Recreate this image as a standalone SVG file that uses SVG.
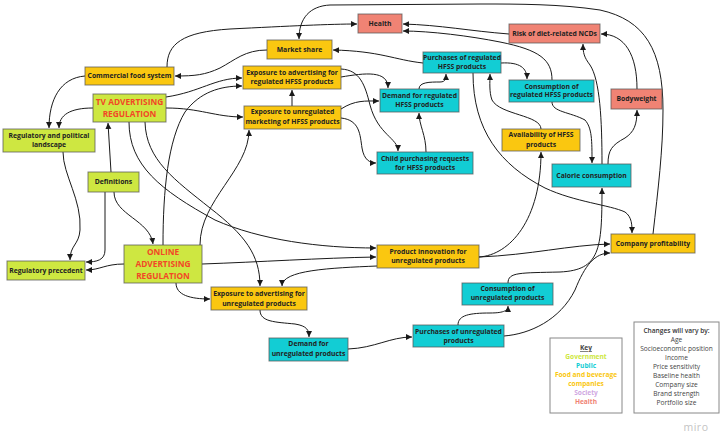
<svg xmlns="http://www.w3.org/2000/svg" width="720" height="434" viewBox="0 0 720 434">
<defs>
<marker id="ah" markerUnits="userSpaceOnUse" markerWidth="7" markerHeight="7" refX="6" refY="3" orient="auto"><path d="M0,0 L6,3 L0,6 z" fill="#1a1a1a"/></marker>
<style>
.n rect{stroke:#555;stroke-opacity:.75;stroke-width:1}
.g rect{fill:#cee741}
.y rect{fill:#fac710}
.c rect{fill:#12cdd4}
.h rect{fill:#f08374}
.n text{font-family:"Open Sans","Liberation Sans",sans-serif;font-weight:700;font-size:6.8px;fill:#222;text-anchor:middle}
.n text.big{font-size:8.3px;fill:#f24726}
#conn path{fill:none;stroke:#1a1a1a;stroke-width:1;marker-end:url(#ah)}
.k text{font-family:"Open Sans","Liberation Sans",sans-serif;font-size:6.6px;text-anchor:middle}
</style>
</defs>
<rect width="720" height="434" fill="#fff"/>
<g id="conn">
<path d="M167,67 C167,44 182,32 230,29 C290,26 330,24 357,24"/>
<path d="M267,50 C245,50 235,60 220,68 C205,75 195,76 175,76"/>
<path d="M85,76 C60,78 49,100 49,128"/>
<path d="M93,108 C70,108 59,115 59,128"/>
<path d="M166,97 C200,92 215,78 242,78"/>
<path d="M163,245 C163,190 168,140 185,112 C200,92 220,86 242,86"/>
<path d="M166,108 C200,108 215,117 243,117"/>
<path d="M200,245 C200,200 249,170 249,130"/>
<path d="M292,106 L292,90"/>
<path d="M341,77 C365,73 388,70 388,88"/>
<path d="M341,69 C360,70 365,85 370,105 C378,135 398,138 398,151"/>
<path d="M341,109 C355,100 365,101 379,101"/>
<path d="M341,118 C360,120 360,135 362,148 C364,160 370,163 376,163"/>
<path d="M426,152 C426,135 419,125 419,113"/>
<path d="M419,89 C419,82 430,82 440,82 C446,82 446,78 446,74"/>
<path d="M423,63 C395,60 380,51 333,50"/>
<path d="M501,63 C520,62 527,68 527,79"/>
<path d="M541,129 C541,115 500,115 492,100 C489,92 490,82 490,74"/>
<path d="M473,73 C473,130 500,165 545,188 C575,202 610,205 625,212 C632,217 632,225 632,233"/>
<path d="M552,102 C552,112 570,112 585,120 C592,128 592,140 592,163"/>
<path d="M602,164 C602,120 600,80 590,65 C584,57 583,53 583,44"/>
<path d="M608,164 C608,150 612,145 625,138 C634,132 637,125 637,110"/>
<path d="M637,89 C637,55 625,34 601,34"/>
<path d="M509,34 C470,31 440,25 403,24"/>
<path d="M552,80 C552,60 540,50 500,42 C470,36 430,31 403,31"/>
<path d="M653,234 C658,190 663,150 663,110 C663,50 645,20 600,10 C560,4 520,4 480,4 L330,5 C310,6 299,18 299,39"/>
<path d="M508,283 C508,272 520,273 560,272 C600,270 602,250 602,188"/>
<path d="M479,257 C510,255 541,220 541,152"/>
<path d="M479,257 C530,255 570,245 610,244"/>
<path d="M504,336 C530,334 560,320 575,290 C585,265 595,253 610,253"/>
<path d="M458,325 C458,315 470,313 490,313 C505,313 508,310 508,306"/>
<path d="M348,349 C375,348 390,337 412,337"/>
<path d="M260,310 C260,322 275,322 295,324 C307,326 309,330 309,337"/>
<path d="M176,283 C176,295 190,299 210,299"/>
<path d="M377,266 C330,268 282,270 282,286"/>
<path d="M145,122 C146,160 175,180 210,208 C245,235 260,255 260,286"/>
<path d="M129,122 C129,165 160,190 215,220 C260,240 320,248 376,248"/>
<path d="M202,264 C260,262 320,258 376,257"/>
<path d="M111,172 L108,123"/>
<path d="M114,192 C114,215 150,220 153,244"/>
<path d="M105,192 L105,250 C105,260 97,262 86,262"/>
<path d="M63,152 C63,175 82,200 80,230 C79,245 70,245 70,260"/>
<path d="M124,264 C105,264 100,270 86,270"/>
</g>
<g id="health" class="n h"><rect x="358" y="14" width="44" height="19"/><text x="380" y="25.9">Health</text></g>
<g id="risk" class="n h"><rect x="509" y="24" width="91" height="19"/><text x="554.5" y="35.9">Risk of diet-related NCDs</text></g>
<g id="market" class="n y"><rect x="267" y="40" width="65" height="19"/><text x="299.5" y="51.9">Market share</text></g>
<g id="commercial" class="n y"><rect x="85" y="67" width="89" height="18"/><text x="129.5" y="78.4">Commercial food system</text></g>
<g id="tv" class="n g"><rect x="93" y="94" width="73" height="28"/><text class="big" x="129.5" y="105">TV ADVERTISING</text><text class="big" x="129.5" y="116.6">REGULATION</text></g>
<g id="regpol" class="n g"><rect x="3" y="129" width="92" height="23"/><text x="49" y="137.9">Regulatory and political</text><text x="49" y="147.4">landscape</text></g>
<g id="expreg" class="n y"><rect x="243" y="66" width="98" height="23"/><text x="292" y="74.9">Exposure to advertising for</text><text x="292" y="84.4">regulated HFSS products</text></g>
<g id="expunreg" class="n y"><rect x="244" y="106" width="97" height="23"/><text x="292.5" y="114.4">Exposure to unregulated</text><text x="292.5" y="124.2">marketing of HFSS products</text></g>
<g id="demreg" class="n c"><rect x="380" y="89" width="79" height="23"/><text x="419.5" y="98.2">Demand for regulated</text><text x="419.5" y="107.4">HFSS products</text></g>
<g id="purreg" class="n c"><rect x="423" y="52" width="78" height="21"/><text x="462" y="59.9">Purchases of regulated</text><text x="462" y="69.2">HFSS products</text></g>
<g id="conreg" class="n c"><rect x="509" y="80" width="85" height="22"/><text x="551.5" y="88.9">Consumption of</text><text x="551.5" y="97.4">regulated HFSS products</text></g>
<g id="body" class="n h"><rect x="611" y="89" width="51" height="20"/><text x="636.5" y="101.4">Bodyweight</text></g>
<g id="avail" class="n y"><rect x="502" y="129" width="78" height="22"/><text x="541" y="137.4">Availability of HFSS</text><text x="541" y="146.9">products</text></g>
<g id="child" class="n c"><rect x="377" y="152" width="96" height="22"/><text x="425" y="160.6">Child purchasing requests</text><text x="425" y="169.9">for HFSS products</text></g>
<g id="calorie" class="n c"><rect x="552" y="164" width="79" height="23"/><text x="591.5" y="177.9">Calorie consumption</text></g>
<g id="defs" class="n g"><rect x="88" y="172" width="51" height="20"/><text x="113.5" y="184.4">Definitions</text></g>
<g id="online" class="n g"><rect x="124" y="245" width="78" height="38"/><text class="big" x="163" y="255.2">ONLINE</text><text class="big" x="163" y="267">ADVERTISING</text><text class="big" x="163" y="278.8">REGULATION</text></g>
<g id="regprec" class="n g"><rect x="7" y="261" width="78" height="19"/><text x="46" y="272.9">Regulatory precedent</text></g>
<g id="prodinn" class="n y"><rect x="377" y="245" width="102" height="23"/><text x="428" y="253.6">Product innovation for</text><text x="428" y="262.9">unregulated products</text></g>
<g id="profit" class="n y"><rect x="611" y="234" width="84" height="19"/><text x="653" y="245.9">Company profitability</text></g>
<g id="expunprod" class="n y"><rect x="211" y="287" width="96" height="23"/><text x="259" y="296.1">Exposure to advertising for</text><text x="259" y="305.5">unregulated products</text></g>
<g id="demunreg" class="n c"><rect x="269" y="338" width="79" height="23"/><text x="308.5" y="346.4">Demand for</text><text x="308.5" y="355.8">unregulated products</text></g>
<g id="purunreg" class="n c"><rect x="413" y="325" width="91" height="22"/><text x="458.5" y="334">Purchases of unregulated</text><text x="458.5" y="343">products</text></g>
<g id="conunreg" class="n c"><rect x="462" y="283" width="91" height="22"/><text x="507.5" y="291.4">Consumption of</text><text x="507.5" y="300.3">unregulated products</text></g>
<g id="key" class="k">
<rect x="550" y="338" width="72" height="75" fill="#fff" stroke="#888" stroke-width="1"/>
<text x="586" y="350.3" fill="#444" font-weight="700" text-decoration="underline">Key</text>
<text x="586" y="359.3" fill="#cee741" font-weight="700">Government</text>
<text x="586" y="368.3" fill="#12cdd4" font-weight="700">Public</text>
<text x="586" y="377.3" fill="#fac710" font-weight="700">Food and beverage</text>
<text x="586" y="386.3" fill="#fac710" font-weight="700">companies</text>
<text x="586" y="395.3" fill="#d0a8e2" font-weight="700">Society</text>
<text x="586" y="404.3" fill="#f08374" font-weight="700">Health</text>
</g>
<g id="changes" class="k">
<rect x="634" y="322" width="85" height="91" fill="#fff" stroke="#888" stroke-width="1"/>
<text x="676.5" y="333.3" fill="#333" font-weight="600">Changes will vary by:</text>
<text x="676.5" y="342.3" fill="#444">Age</text>
<text x="676.5" y="351.3" fill="#444">Socioeconomic position</text>
<text x="676.5" y="360.3" fill="#444">Income</text>
<text x="676.5" y="369.3" fill="#444">Price sensitivity</text>
<text x="676.5" y="378.3" fill="#444">Baseline health</text>
<text x="676.5" y="387.3" fill="#444">Company size</text>
<text x="676.5" y="396.3" fill="#444">Brand strength</text>
<text x="676.5" y="405.3" fill="#444">Portfolio size</text>
</g>
<text x="696" y="431" font-family="'Open Sans','Liberation Sans',sans-serif" font-size="10.5" fill="#c4c4c4" text-anchor="middle" letter-spacing="0.5">miro</text>
</svg>
